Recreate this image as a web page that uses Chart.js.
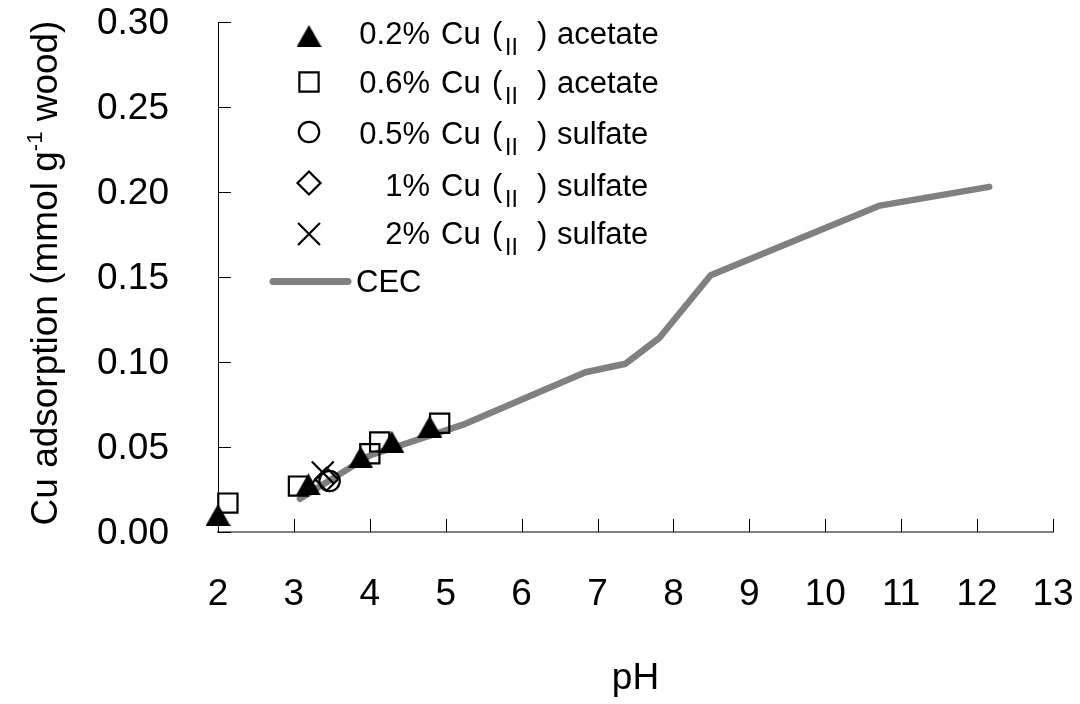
<!DOCTYPE html>
<html><head><meta charset="utf-8">
<script src="https://cdn.jsdelivr.net/npm/chart.js@4/dist/chart.umd.min.js"></script>
<style>html,body{margin:0;padding:0;background:#fff;}#wrap{width:1080px;height:704px;}</style>
</head><body><div id="wrap"><canvas id="c" width="1080" height="704"></canvas></div>
<script>
// ---- data ----
const xTicks = [2, 3, 4, 5, 6, 7, 8, 9, 10, 11, 12, 13];
const yTicks = [0, 0.05, 0.10, 0.15, 0.20, 0.25, 0.30];
const acetate02X = [2.00, 3.19, 3.88, 4.29, 4.79];
const acetate02Y = [0.010, 0.028, 0.044, 0.053, 0.062];
const acetate06X = [2.13, 3.06, 4.00, 4.13, 4.92];
const acetate06Y = [0.017, 0.027, 0.046, 0.053, 0.064];
const sulfate05X = [3.47];
const sulfate05Y = [0.030];
const sulfate1X = [3.43];
const sulfate1Y = [0.031];
const sulfate2X = [3.38];
const sulfate2Y = [0.035];
const cecX = [3.08, 4.00, 5.22, 6.84, 7.37, 7.81, 8.49, 10.72, 12.16];
const cecY = [0.0195, 0.045, 0.063, 0.094, 0.099, 0.114, 0.151, 0.192, 0.203];
const legendPct = ['0.2%', '0.6%', '0.5%', '1%', '2%'];
const legendSalt = ['acetate', 'acetate', 'sulfate', 'sulfate', 'sulfate'];
const cecLabel = 'CEC';
const xTitle = 'pH';
const yTitleParts = ['Cu adsorption (mmol g', '-1', ' wood)'];

const FONT = "'Liberation Sans', Arial, Helvetica, sans-serif";
Chart.defaults.font.family = FONT;
Chart.defaults.color = '#000';

function pts(xs, ys) { return xs.map((x, i) => ({x: x, y: ys[i]})); }

// filled triangle marker centred on its bounding box
const tri = document.createElement('canvas');
tri.width = 25; tri.height = 22;
(function(){ const t = tri.getContext('2d'); t.fillStyle = '#000'; t.beginPath();
  t.moveTo(12.5, 0); t.lineTo(25, 22); t.lineTo(0, 22); t.closePath(); t.fill(); })();

const markerStyles = [
  {pointStyle: tri, radius: 12, borderWidth: 0},
  {pointStyle: 'rect', radius: 13.6, borderWidth: 2.2},
  {pointStyle: 'circle', radius: 10.2, borderWidth: 2.2},
  {pointStyle: 'rectRot', radius: 11.5, borderWidth: 2.2},
  {pointStyle: 'crossRot', radius: 15.5, borderWidth: 2.2}
];
const seriesData = [
  pts(acetate02X, acetate02Y), pts(acetate06X, acetate06Y),
  pts(sulfate05X, sulfate05Y), pts(sulfate1X, sulfate1Y), pts(sulfate2X, sulfate2Y)
];

const datasets = seriesData.map((d, i) => ({
  label: legendPct[i] + ' Cu (II) ' + legendSalt[i],
  data: d,
  showLine: false,
  clip: false,
  pointStyle: markerStyles[i].pointStyle,
  pointRadius: markerStyles[i].radius,
  pointBorderWidth: markerStyles[i].borderWidth,
  pointBorderColor: '#000',
  pointBackgroundColor: i === 0 ? '#000' : 'rgba(0,0,0,0)'
}));
datasets.push({
  label: cecLabel,
  data: pts(cecX, cecY),
  showLine: true,
  pointRadius: 0,
  borderColor: '#808080',
  borderWidth: 6.5,
  borderCapStyle: 'round',
  borderJoinStyle: 'round',
  clip: false
});

const inwardTicks = {
  id: 'inwardTicks',
  beforeDatasetsDraw(chart) {
    const {ctx, scales: {x, y}, chartArea} = chart;
    ctx.save();
    ctx.strokeStyle = '#000'; ctx.lineWidth = 1;
    ctx.beginPath();
    yTicks.forEach(v => {
      const py = Math.round(y.getPixelForValue(v)) + 0.5;
      ctx.moveTo(chartArea.left, py); ctx.lineTo(chartArea.left + 13, py);
    });
    xTicks.forEach(v => {
      const px = Math.round(x.getPixelForValue(v)) + 0.5;
      ctx.moveTo(px, chartArea.bottom); ctx.lineTo(px, chartArea.bottom - 13);
    });
    ctx.stroke();
    ctx.restore();
  }
};

const legendAndTitle = {
  id: 'legendAndTitle',
  afterDraw(chart) {
    const ctx = chart.ctx;
    ctx.save();
    // legend
    const markerY = [36, 82, 132, 183, 234];
    const baseY = [44, 93, 144, 196, 244];
    const mx = 309;
    for (let i = 0; i < 5; i++) {
      const m = markerStyles[i];
      ctx.strokeStyle = '#000'; ctx.fillStyle = i === 0 ? '#000' : 'rgba(0,0,0,0)';
      ctx.lineWidth = m.borderWidth || 1;
      Chart.helpers.drawPoint(ctx, {pointStyle: m.pointStyle, radius: m.radius, rotation: 0, borderWidth: m.borderWidth}, mx, markerY[i]);
      ctx.fillStyle = '#000';
      ctx.font = '31px ' + FONT;
      ctx.textBaseline = 'alphabetic';
      ctx.textAlign = 'right';
      ctx.fillText(legendPct[i], 430, baseY[i]);
      ctx.textAlign = 'left';
      ctx.fillText('Cu', 441, baseY[i]);
      ctx.fillText('(', 492, baseY[i]);
      ctx.fillText(')', 537, baseY[i]);
      ctx.fillText(legendSalt[i], 557, baseY[i]);
      ctx.font = '23px ' + FONT;
      ctx.fillText('II', 505, baseY[i] + 11);
    }
    // CEC legend line
    ctx.strokeStyle = '#808080'; ctx.lineWidth = 7; ctx.lineCap = 'round';
    ctx.beginPath(); ctx.moveTo(273, 281.5); ctx.lineTo(348, 281.5); ctx.stroke();
    ctx.fillStyle = '#000'; ctx.font = '31px ' + FONT; ctx.textAlign = 'left';
    ctx.fillText(cecLabel, 356, 292);
    // y-axis title with superscript
    ctx.translate(57, 273);
    ctx.rotate(-Math.PI / 2);
    const big = '37px ' + FONT, small = '22px ' + FONT;
    ctx.font = big; const w0 = ctx.measureText(yTitleParts[0]).width;
    const w2 = ctx.measureText(yTitleParts[2]).width;
    ctx.font = small; const w1 = ctx.measureText(yTitleParts[1]).width;
    let sx = -(w0 + w1 + w2) / 2;
    ctx.font = big; ctx.fillText(yTitleParts[0], sx, 0); sx += w0;
    ctx.font = small; ctx.fillText(yTitleParts[1], sx, -15); sx += w1;
    ctx.font = big; ctx.fillText(yTitleParts[2], sx, 0);
    ctx.restore();
  }
};

new Chart(document.getElementById('c'), {
  type: 'scatter',
  data: {datasets: datasets},
  options: {
    responsive: false,
    animation: false,
    events: [],
    layout: {padding: {left: 0, top: 22, right: 27, bottom: 0}},
    plugins: {legend: {display: false}, tooltip: {enabled: false}},
    scales: {
      x: {
        type: 'linear', min: 2, max: 13,
        afterBuildTicks: s => { s.ticks = xTicks.map(v => ({value: v})); },
        afterFit: s => { s.height = 172; s.paddingLeft = 0; s.paddingRight = 0; },
        grid: {display: false, drawTicks: false},
        border: {display: true, color: '#808080', width: 2},
        ticks: {font: {size: 37}, color: '#000', padding: 41, maxRotation: 0, autoSkip: false},
        title: {display: true, text: xTitle, font: {size: 37}, color: '#000', padding: {top: 0, bottom: 3}}
      },
      y: {
        type: 'linear', min: 0, max: 0.3,
        afterBuildTicks: s => { s.ticks = yTicks.map(v => ({value: v})); },
        afterFit: s => { s.width = 218; s.paddingTop = 0; s.paddingBottom = 0; },
        grid: {display: false, drawTicks: false},
        border: {display: true, color: '#000', width: 1},
        ticks: {font: {size: 37}, color: '#000', padding: 49, labelOffset: 2, callback: v => v.toFixed(2)}
      }
    }
  },
  plugins: [inwardTicks, legendAndTitle]
});
</script></body></html>
